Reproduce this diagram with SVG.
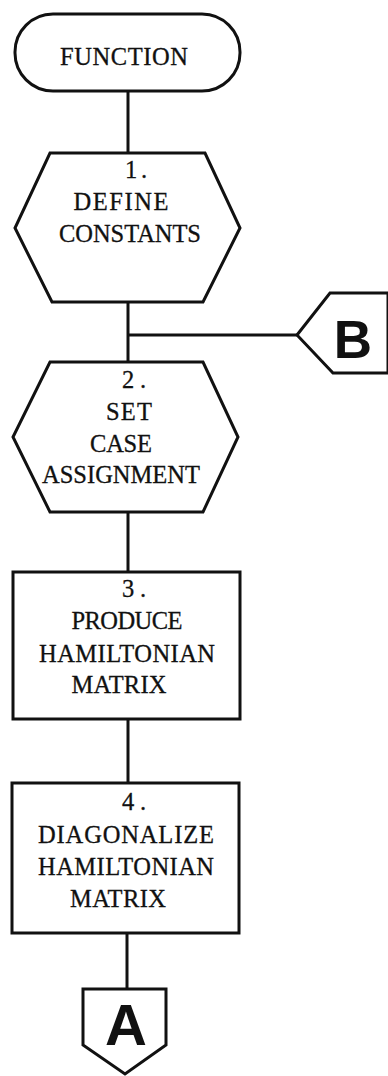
<svg xmlns="http://www.w3.org/2000/svg" width="388" height="1076" viewBox="0 0 388 1076">
<style>
.shape{fill:#fff;stroke:#111;stroke-width:3;stroke-linejoin:miter}
.conn{fill:none;stroke:#111;stroke-width:3}
.t{font-family:"Liberation Serif","DejaVu Serif",serif;font-size:24.5px;fill:#111;stroke:#111;stroke-width:0.3;text-anchor:middle}
.big{font-family:"Liberation Sans","DejaVu Sans",sans-serif;font-weight:bold;fill:#111;text-anchor:middle}
</style>
<rect width="388" height="1076" fill="#fff"/>
<g id="connectors">
<line class="conn" x1="128" y1="91" x2="128" y2="153"/>
<line class="conn" x1="128" y1="302" x2="128" y2="362"/>
<line class="conn" x1="128" y1="335" x2="297" y2="335"/>
<line class="conn" x1="128" y1="512" x2="128" y2="572"/>
<line class="conn" x1="128" y1="719" x2="128" y2="783"/>
<line class="conn" x1="127" y1="933" x2="127" y2="989"/>
</g>
<g id="start">
<rect class="shape" x="15" y="14" width="225" height="77" rx="38" ry="38"/>
<text class="t" x="124" y="65" textLength="128" lengthAdjust="spacing">FUNCTION</text>
</g>
<g id="step1">
<polygon class="shape" points="50,153 205,153 240,228 203,302 52,302 15,228"/>
<text class="t" x="136" y="178" textLength="22" lengthAdjust="spacing">1.</text>
<text class="t" x="121" y="210" textLength="95" lengthAdjust="spacing">DEFINE</text>
<text class="t" x="130" y="242" textLength="142" lengthAdjust="spacing">CONSTANTS</text>
</g>
<g id="connectorB">
<polygon class="shape" points="297,335 330,293 388,293 388,373 333,373"/>
<text class="big" x="353" y="358" font-size="53">B</text>
</g>
<g id="step2">
<polygon class="shape" points="50,362 203,362 238,437 203,512 50,512 13,437"/>
<text class="t" x="134" y="388" textLength="24" lengthAdjust="spacing">2.</text>
<text class="t" x="129" y="420" textLength="46" lengthAdjust="spacing">SET</text>
<text class="t" x="121" y="452" textLength="62" lengthAdjust="spacing">CASE</text>
<text class="t" x="121" y="483" textLength="158" lengthAdjust="spacing">ASSIGNMENT</text>
</g>
<g id="step3">
<rect class="shape" x="13" y="572" width="227" height="147"/>
<text class="t" x="134" y="597" textLength="24" lengthAdjust="spacing">3.</text>
<text class="t" x="127" y="629" textLength="111" lengthAdjust="spacing">PRODUCE</text>
<text class="t" x="127" y="662" textLength="176" lengthAdjust="spacing">HAMILTONIAN</text>
<text class="t" x="119" y="693" textLength="95" lengthAdjust="spacing">MATRIX</text>
</g>
<g id="step4">
<rect class="shape" x="12" y="783" width="227" height="150"/>
<text class="t" x="134" y="810" textLength="24" lengthAdjust="spacing">4.</text>
<text class="t" x="126" y="843" textLength="176" lengthAdjust="spacing">DIAGONALIZE</text>
<text class="t" x="126" y="875" textLength="176" lengthAdjust="spacing">HAMILTONIAN</text>
<text class="t" x="118" y="907" textLength="96" lengthAdjust="spacing">MATRIX</text>
</g>
<g id="connectorA">
<polygon class="shape" points="83,989 166,989 166,1045 125,1074 83,1045"/>
<text class="big" x="126" y="1045" font-size="58">A</text>
</g>
</svg>
